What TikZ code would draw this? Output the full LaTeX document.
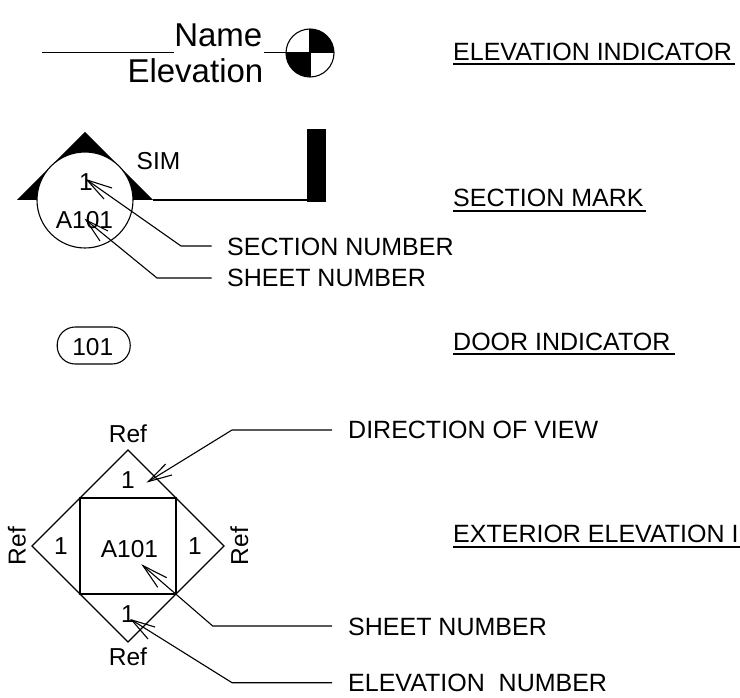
\documentclass[tikz,border=0pt]{standalone}
\usepackage{fontspec}
\setmainfont{Liberation Sans}
\tikzset{
  lbl/.style={anchor=base west,inner sep=0pt,font=\fontsize{25}{25}\selectfont},
  mk/.style={anchor=base,inner sep=0pt,font=\fontsize{24.5}{24.5}\selectfont},
  big/.style={anchor=base east,inner sep=0pt,font=\fontsize{33}{33}\selectfont},
  thin line/.style={line width=1.1pt,black},
  ulin/.style={line width=2pt,black},
}
\newcommand{\arrowhead}[3]{% tip, barb1, barb2
  \draw[thin line] (#2) -- (#1) -- (#3);}
\begin{document}
\begin{tikzpicture}[x=1pt,y=-1pt]
\useasboundingbox (0,0) rectangle (740,698);
\clip (0,0) rectangle (740,698);
% elevation indicator
\node[big] (name) at (262.5,46.5) {Name};
\node[big] (elev) at (263.5,83) {Elevation};
\coordinate (ls) at (42,52.5);
\coordinate (lm) at (127,52.5);
\coordinate (le) at (174,52.5);
\draw[line width=1.9pt] (ls) -- (lm);
\draw[line width=1.1pt] (lm) -- (le);
\coordinate (cc) at (310,53);
\fill (cc) -- ++(-24,0) arc (180:90:24) -- cycle;
\fill (cc) -- ++(24,0) arc (0:-90:24) -- cycle;
\draw[thin line] (cc) circle (24);
\draw[line width=1.7pt] (264,52.5) -- (286,52.5);
\draw[line width=1.3pt] (286,52.5) -- (334,52.5);
\draw[thin line] (310,29) -- (310,77);
% section mark
\fill (85,132) -- (17,200) -- (153,200) -- cycle;
\draw[line width=1.6pt] (153,200) -- (310,200);
\fill (307,129) rectangle (326,202);
\node[circle,draw=black,fill=white,line width=1.1pt,minimum size=96pt,inner sep=0pt] (sec) at (85,200) {};
\node[mk] (sim) at (158.5,169.5) {SIM};
\node[mk] (n1) at (86,191) {1};
\node[mk] (a1) at (84.5,229) {A101};
\coordinate (t1) at (87,180);
\coordinate (t2) at (86,220);
\coordinate (e1) at (181,246);
\coordinate (e2) at (157,278);
\node[lbl] (secn) at (227,255) {SECTION NUMBER};
\node[lbl] (shtn) at (227,286.5) {SHEET NUMBER};
\draw[thin line] (t1) -- (e1) -- (211.5,246);
\draw[thin line] (t2) -- (e2) -- (211.5,278);
\arrowhead{t1}{112,188}{104,199}
\arrowhead{t2}{108,231}{100,241}
% door
\node[rectangle,rounded corners=18pt,draw=black,line width=1.1pt,minimum width=73pt,minimum height=37pt,inner sep=0pt] (door) at (93.7,345.5) {};
\node[mk] (dn) at (92.7,355) {101};
% exterior elevation
\coordinate (T) at (128,450);
\coordinate (L) at (32,546);
\coordinate (B) at (128,642);
\coordinate (R) at (224,546);
\coordinate (a) at (80,498);
\coordinate (b) at (176,498);
\coordinate (c) at (176,594);
\coordinate (d) at (80,594);
\draw[thin line] (T) -- (R) -- (B) -- (L) -- cycle;
\draw[line width=1.4pt] (a) -- (b) -- (c) -- (d) -- cycle;
\node[mk] (rt) at (128,442.7) {Ref};
\node[mk] (rb) at (128,665.5) {Ref};
\node[mk,rotate=90] (rl) at (25.5,546) {Ref};
\node[mk,rotate=90] (rr) at (248,546) {Ref};
\node[mk] (o1) at (128,488) {1};
\node[mk] (o2) at (61,554) {1};
\node[mk] (o3) at (195,554) {1};
\node[mk] (o4) at (128,622) {1};
\node[mk] (a2) at (129.5,557) {A101};
\coordinate (dv) at (148.5,481.5);
\coordinate (dv2) at (232,430);
\coordinate (sn) at (143,565.7);
\coordinate (sn2) at (212.7,626);
\coordinate (en) at (131.7,620);
\coordinate (en2) at (232,682.7);
\draw[thin line] (dv) -- (dv2) -- (332,430);
\draw[thin line] (sn) -- (sn2) -- (332,626);
\draw[thin line] (en) -- (en2) -- (332,682.7);
\arrowhead{dv}{165.7,464}{172,475}
\arrowhead{sn}{166.7,577.7}{157.7,587.3}
\arrowhead{en}{155,627}{148,639}
\node[lbl] (d1) at (348,438) {DIRECTION OF VIEW};
\node[lbl] (d2) at (348,635) {SHEET NUMBER};
\node[lbl] (d3) at (348,691) {ELEVATION\ \ NUMBER};
% headings
\node[lbl] (h1) at (453,61) {ELEVATION INDICATOR};
\node[lbl] (h2) at (453,207) {SECTION MARK};
\node[lbl] (h3) at (453,350) {DOOR INDICATOR};
\node[lbl] (h4) at (453,542.7) {EXTERIOR ELEVATION I};
\draw[ulin] (453,64.5) -- (735,64.5);
\draw[ulin] (453,211) -- (646,211);
\draw[ulin] (453,354) -- (675,354);
\draw[ulin] (453,547) -- (740,547);
\end{tikzpicture}
\end{document}
